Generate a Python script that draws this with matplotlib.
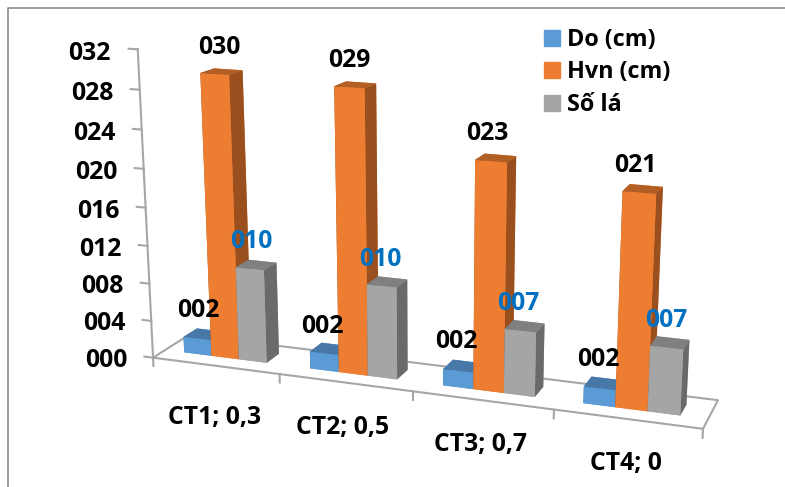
import numpy as np
import matplotlib
matplotlib.use('Agg')
import matplotlib.pyplot as plt
from matplotlib.patches import Patch

plt.rcParams['font.family'] = ['Open Sans', 'DejaVu Sans']
plt.rcParams['font.weight'] = 'bold'

# Data
categories = ['CT1; 0,3', 'CT2; 0,5', 'CT3; 0,7', 'CT4; 0']
do_cm = [1.7, 1.8, 1.7, 1.7]
hvn_cm = [29.6, 29.2, 23.1, 21.3]
so_la = [9.9, 9.6, 6.6, 6.6]
z_ticks = [0, 4, 8, 12, 16, 20, 24, 28, 32]

W, H = 785, 487
BAR_W = 0.22
GAP = 0.155
DEPTH = (0.33, 0.71)

# series: values, label, front, top, side colours, value label colour
series = [
    (do_cm, 'Do (cm)', '#5B9BD5', '#4878A8', '#41719C', 'black'),
    (hvn_cm, 'Hvn (cm)', '#ED7D31', '#B25F25', '#9A4F1E', 'black'),
    (so_la, 'Số lá', '#A5A5A5', '#808080', '#6A6A6A', '#0070C0'),
]
# value labels sit above the bar's top centre (category units, z units), then pixel nudges
label_offset = [(-0.12, 3.2), (0.0, 2.6), (0.12, 2.6)]
label_nudge = [
    [(17, 3), (14, 5), (14, 3), (15, 5)],
    [(6, 0), (0, 0), (-4, -1), (-5, 1)],
    [(-13, -4), (-18, -3), (-20, -4), (-20, -3)],
]
category_nudge = [(-2, 11), (-3, 4), (-2, 2), (0, 1)]

# Camera: world point (category, depth, value) -> image pixel (origin top left)
corners = [
    ((0, 0, 0), (153, 357.5)),
    ((4, 0, 0), (703, 429)),
    ((0, 1, 0), (189, 335)),
    ((4, 1, 0), (718, 400)),
    ((0, 0, 16), (145.7, 207.7)),
    ((0, 0, 32), (137.7, 49.3)),
    ((4, 0, 32), (720, 87)),
]


def solve_camera(points):
    rows = []
    for (x, y, z), (u, v) in points:
        v = H - v
        rows.append([x, y, z, 1, 0, 0, 0, 0, -u*x, -u*y, -u*z, -u])
        rows.append([0, 0, 0, 0, x, y, z, 1, -v*x, -v*y, -v*z, -v])
    p = np.linalg.svd(np.array(rows, dtype=float))[2][-1].reshape(3, 4)
    return p / p[2, 3]


camera = solve_camera(corners)

fig = plt.figure(figsize=(W/100, H/100), dpi=100)
# mplot3d keeps the axes square, so make it wide enough to hold the whole figure
ax = fig.add_axes([0, (H - W)/2/H, 1, W/H], projection='3d')
ax.set_axis_off()
ax.computed_zorder = False


def get_proj():
    # pixels back to the axes' own view coordinates
    inv = np.linalg.inv(ax.transData.get_affine().get_matrix())
    m = np.array([
        inv[0, 0]*camera[0] + inv[0, 2]*camera[2],
        inv[1, 1]*camera[1] + inv[1, 2]*camera[2],
        [0, 0, 0, -1],
        camera[2],
    ])
    return m


ax.get_proj = get_proj


def put_text(x, y, z, s, nudge=(0, 0), **kw):
    # text is placed on the figure at the projected position of a world point
    u, v, w = camera @ np.array([x, y, z, 1.0])
    fig.text((u/w + nudge[0])/W, (v/w - nudge[1])/H, s, va='center', fontsize=17.8, **kw)


# Floor and axes
line_kw = dict(color='#A6A6A6', lw=1.5, zorder=1)
ax.plot([0, 4, 4, 0, 0], [0, 0, 1, 1, 0], [0, 0, 0, 0, 0], **line_kw)
ax.plot([0, 0], [0, 0], [0, 32], **line_kw)
for v in z_ticks:
    ax.plot([-0.07, 0], [0, 0], [v, v], **line_kw)
    put_text(-0.2, 0, v, f'{v:03d}', nudge=(-1, 6), ha='right')
for i in range(5):
    ax.plot([i, i], [0, 0], [0, -0.9], **line_kw)
for i, name in enumerate(categories):
    put_text(i + 0.5, 0, -4.4, name, nudge=category_nudge[i], ha='center')

# Bars, faces in bar3d order: bottom, top, front, back, left, right
for s, (values, name, front, top, side, label_color) in enumerate(series):
    for i, v in enumerate(values):
        x = i + GAP + s*BAR_W
        bar = ax.bar3d(x, DEPTH[0], 0, BAR_W, DEPTH[1] - DEPTH[0], v,
                       color=[front, top, front, front, side, side], shade=False)
        bar.set_zorder(5 + s)
        dx, dz = label_offset[s]
        put_text(x + BAR_W/2 + dx, DEPTH[0], v + dz, f'{v:03.0f}', nudge=label_nudge[s][i],
                 color=label_color, ha='center')

handles = [Patch(color=s[2], label=s[1]) for s in series]
fig.legend(handles=handles, loc='upper left', bbox_to_anchor=(544/W, 1 - 28/H), frameon=False,
           fontsize=16.8, handlelength=0.68, handleheight=0.68, handletextpad=0.3,
           labelspacing=0.36, borderpad=0, borderaxespad=0)

# Chart border, open at the right and bottom
fig.add_artist(plt.Line2D([8/W, 8/W, 1], [0, 1 - 8/H, 1 - 8/H], color='#8C8C8C', lw=1.2))

fig.savefig('out.png', dpi=100)
